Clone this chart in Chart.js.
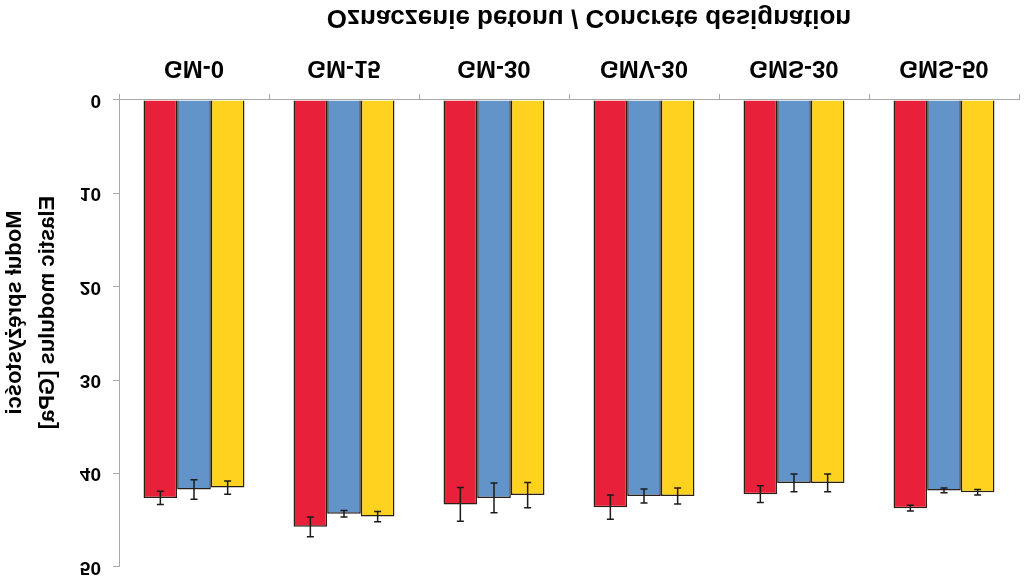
<!DOCTYPE html>
<html>
<head>
<meta charset="utf-8">
<title>Moduł sprężystości</title>
<script src="https://cdn.jsdelivr.net/npm/chart.js@4"></script>
<style>
  html, body { margin: 0; padding: 0; background: #fff; }
  #wrap { width: 1024px; height: 579px; position: relative; }
  /* the reference picture is mirrored top to bottom */
  #modulusChart { transform: scaleY(-1); }
</style>
</head>
<body>
<div id="wrap"><canvas id="modulusChart"></canvas></div>
<script>
const categories = ['GM-0', 'GM-15', 'GM-30', 'GMV-30', 'GMS-30', 'GMS-50'];
const seriesNames = ['Seria 1', 'Seria 2', 'Seria 3'];

const redValues    = [42.6, 45.7, 43.3, 43.6, 42.2, 43.7];
const blueValues   = [41.7, 44.3, 42.6, 42.4, 41.0, 41.8];
const yellowValues = [41.5, 44.6, 42.3, 42.4, 41.0, 42.0];

const redErrors    = [0.7, 1.05, 1.8, 1.3, 0.9, 0.3];
const blueErrors   = [1.05, 0.35, 1.6, 0.75, 0.95, 0.25];
const yellowErrors = [0.7, 0.55, 1.35, 0.85, 0.95, 0.3];

const yTicks = [0, 10, 20, 30, 40, 50];

const xTitle = 'Oznaczenie betonu / Concrete designation';
const yTitle = ['Moduł sprężystości', 'Elastic modulus [GPa]'];

const FONT = '"Liberation Sans", Arial, sans-serif';


// whiskers drawn through the y scale
const errorBars = {
  id: 'errorBars',
  afterDatasetsDraw(chart){
    const ctx = chart.ctx;
    const y = chart.scales.y;
    ctx.save();
    ctx.strokeStyle = '#1b1b1b';
    ctx.lineWidth = 1.5;
    chart.data.datasets.forEach((ds, di) => {
      const meta = chart.getDatasetMeta(di);
      meta.data.forEach((bar, i) => {
        const v = ds.data[i], e = ds.errors[i];
        const y1 = y.getPixelForValue(v - e);
        const y2 = y.getPixelForValue(v + e);
        ctx.beginPath();
        ctx.moveTo(bar.x, y1); ctx.lineTo(bar.x, y2);
        ctx.moveTo(bar.x - 3.5, y1); ctx.lineTo(bar.x + 3.5, y1);
        ctx.moveTo(bar.x - 3.5, y2); ctx.lineTo(bar.x + 3.5, y2);
        ctx.stroke();
      });
    });
    ctx.restore();
  }
};

// axis titles sit a little off the centre of the plot in the original
const axisTitles = {
  id: 'axisTitles',
  afterDraw(chart){
    const ctx = chart.ctx;
    const a = chart.chartArea;
    ctx.save();
    ctx.fillStyle = '#000';
    ctx.textAlign = 'center';
    ctx.font = 'bold 26px ' + FONT;
    ctx.textBaseline = 'alphabetic';
    ctx.fillText(xTitle, (a.left + a.right) / 2 + 20, a.bottom + 90);

    ctx.font = 'bold 22px ' + FONT;
    ctx.textBaseline = 'middle';
    const cy = (a.top + a.bottom) / 2 + 21;
    [15, 48].forEach((x, i) => {
      ctx.save();
      ctx.translate(x, cy);
      ctx.rotate(-Math.PI / 2);
      ctx.fillText(yTitle[i], 0, 0);
      ctx.restore();
    });
    ctx.restore();
  }
};


const ctx = document.getElementById('modulusChart').getContext('2d');
const chart = new Chart(ctx, {
  type: 'bar',
  data: {
    labels: categories,
    datasets: [
      { label: seriesNames[0], data: redValues, errors: redErrors, backgroundColor: '#E92039' },
      { label: seriesNames[1], data: blueValues, errors: blueErrors, backgroundColor: '#6394C9' },
      { label: seriesNames[2], data: yellowValues, errors: yellowErrors, backgroundColor: '#FED21F' }
    ].map(d => Object.assign(d, { borderColor: '#2a2018', borderWidth: 1.5 }))
  },
  options: {
    responsive: true,
    maintainAspectRatio: false,
    animation: false,
    devicePixelRatio: 1,
    layout: { padding: { left: 0, right: 5, top: 12, bottom: 0 } },
    datasets: { bar: { categoryPercentage: 0.673, barPercentage: 1.0 } },
    plugins: {
      legend: { display: false },
      tooltip: { enabled: false }
    },
    scales: {
      x: {
        afterFit(s){ s.height = 100; },
        grid: { offset: true, drawOnChartArea: false, tickLength: 6, color: '#a8a8a8' },
        border: { color: '#a8a8a8', width: 1 },
        ticks: { color: '#000', padding: 12, font: { family: FONT, size: 24, weight: 'bold' } }
      },
      y: {
        min: yTicks[0],
        max: yTicks[yTicks.length - 1],
        afterFit(s){ s.width = 119; s.paddingTop = 0; s.paddingBottom = 0; },
        afterBuildTicks(s){ s.ticks = yTicks.map(v => ({ value: v })); },
        grid: { drawOnChartArea: false, tickLength: 6, color: '#a8a8a8' },
        border: { color: '#a8a8a8', width: 1 },
        ticks: { color: '#000', padding: 12, font: { family: FONT, size: 19, weight: 'bold' } }
      }
    }
  },
  plugins: [errorBars, axisTitles]
});
</script>
</body>
</html>
